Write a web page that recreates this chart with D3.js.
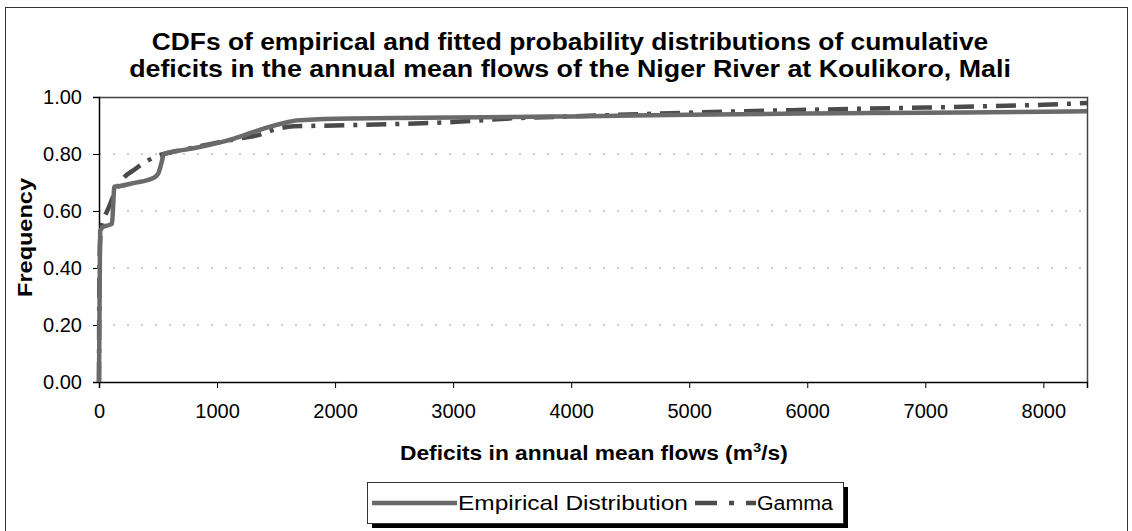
<!DOCTYPE html>
<html>
<head>
<meta charset="utf-8">
<script src="https://cdn.jsdelivr.net/npm/d3@7"></script>
<style>
  body { margin: 0; background: #fff; }
  text { font-family: "Liberation Sans", Arial, sans-serif; }
</style>
</head>
<body>
<div id="chart"></div>
<script>
// values
var titleLines = [
  "CDFs of empirical and fitted probability distributions of cumulative",
  "deficits in the annual mean flows of the Niger River at Koulikoro, Mali"
];
var xTicks = [0, 1000, 2000, 3000, 4000, 5000, 6000, 7000, 8000];
var yTicks = [0, 0.2, 0.4, 0.6, 0.8, 1.0];
var xMax = 8370;

var empiricalX = [0, 5, 10, 40, 80, 110, 120, 130, 180, 290, 460, 500, 530, 550, 660, 800, 1000, 1150, 1280, 1400, 1560, 1680, 2000, 2500, 3000, 3500, 4000, 5000, 6000, 7000, 8000, 8370];
var empiricalY = [0, 0.3, 0.53, 0.545, 0.55, 0.555, 0.62, 0.685, 0.688, 0.698, 0.716, 0.73, 0.77, 0.80, 0.81, 0.82, 0.838, 0.855, 0.873, 0.89, 0.908, 0.918, 0.924, 0.926, 0.928, 0.93, 0.932, 0.938, 0.942, 0.945, 0.948, 0.95];

var gammaX = [0, 2, 5, 10, 20, 40, 80, 130, 206, 300, 376, 489, 600, 800, 1000, 1200, 1365, 1480, 1650, 2000, 2500, 3000, 3500, 4000, 5000, 6000, 7000, 8000, 8370];
var gammaY = [0, 0.3, 0.42, 0.5, 0.54, 0.57, 0.61, 0.66, 0.715, 0.745, 0.768, 0.792, 0.805, 0.822, 0.84, 0.855, 0.868, 0.885, 0.897, 0.9, 0.905, 0.912, 0.925, 0.932, 0.945, 0.955, 0.963, 0.973, 0.979];

var W = 1132, H = 531;
var margin = {top: 97, right: 45, bottom: 149, left: 99};
var width = W - margin.left - margin.right;
var height = H - margin.top - margin.bottom;

var svg = d3.select("#chart").append("svg")
    .attr("width", W)
    .attr("height", H);

// the scanned chart's text is wider than the font: stretch it sideways
function stretch(sel, target, pre) {
  var len = sel.node().getComputedTextLength();
  sel.attr("transform", pre + " scale(" + (target / len) + ",1)");
}

// outer chart frame
svg.append("rect")
  .attr("x", 5.5).attr("y", 7.5)
  .attr("width", 1122).attr("height", 540)
  .attr("fill", "none").attr("stroke", "#333").attr("stroke-width", 1);

var titleWidths = [837, 882];
titleLines.forEach(function(t, i) {
  var tt = svg.append("text")
    .attr("text-anchor", "middle")
    .style("font-size", "24px")
    .style("font-weight", "bold")
    .text(t);
  stretch(tt, titleWidths[i], "translate(570," + (50 + i * 27) + ")");
});

var g = svg.append("g")
    .attr("transform", "translate(" + margin.left + "," + margin.top + ")");

var x = d3.scaleLinear().domain([0, xMax]).range([0, width]);
var y = d3.scaleLinear().domain([0, 1]).range([height, 0]);

// dotted gridlines
g.selectAll("line.grid")
  .data(yTicks.filter(d => d > 0 && d < 1))
  .enter().append("line")
  .attr("x1", 0).attr("x2", width)
  .attr("y1", d => y(d)).attr("y2", d => y(d))
  .attr("stroke", "#999")
  .attr("stroke-width", 1)
  .attr("stroke-dasharray", "2,12");

// plot area border (top / right)
g.append("path")
  .attr("d", "M0,0.5H" + (width + 0.5) + "V" + height)
  .attr("fill", "none").attr("stroke", "#444").attr("stroke-width", 1.5);

var xAxis = g.append("g")
    .attr("transform", "translate(0," + height + ")")
    .call(d3.axisBottom(x).tickValues(xTicks).tickSize(6).tickPadding(16).tickFormat(d3.format("d")));
var yAxis = g.append("g")
    .call(d3.axisLeft(y).tickValues(yTicks).tickSize(6).tickPadding(11).tickFormat(d3.format(".2f")));

[xAxis, yAxis].forEach(function(a) {
  a.select(".domain").attr("stroke", "#000").attr("stroke-width", 1.5);
  a.selectAll(".tick line").attr("stroke", "#000");
  a.selectAll(".tick text")
    .style("font-family", "'Liberation Sans', Arial, sans-serif")
    .style("font-size", "20px")
    .attr("fill", "#000");
});

var line = d3.line()
    .x(d => x(d[0]))
    .y(d => y(d[1]))
    .curve(d3.curveMonotoneX);

var gammaData = gammaX.map((v, i) => [v, gammaY[i]]);
var empiricalData = empiricalX.map((v, i) => [v, empiricalY[i]]);

g.append("path")
  .attr("d", line(gammaData))
  .attr("fill", "none")
  .attr("stroke", "#4a4a4a")
  .attr("stroke-width", 4.5)
  .attr("stroke-dasharray", "20,9,4,9");

g.append("path")
  .attr("d", line(empiricalData))
  .attr("fill", "none")
  .attr("stroke", "#6a6a6a")
  .attr("stroke-width", 4.5)
  .attr("stroke-linejoin", "round");

// axis titles
var yt = svg.append("text")
  .attr("text-anchor", "middle")
  .style("font-size", "20px")
  .style("font-weight", "bold")
  .text("Frequency");
stretch(yt, 119, "translate(32," + (margin.top + height / 2 - 2) + ") rotate(-90)");

var xt = svg.append("text")
  .style("font-size", "20px")
  .style("font-weight", "bold");
xt.append("tspan").text("Deficits in annual mean flows (m");
xt.append("tspan").attr("dy", -8).style("font-size", "13px").text("3");
xt.append("tspan").attr("dy", 8).text("/s)");
stretch(xt, 388, "translate(400,460)");

// legend with shadow
var leg = svg.append("g").attr("transform", "translate(367,482)");
leg.append("rect")
  .attr("x", 5).attr("y", 5).attr("width", 476).attr("height", 41)
  .attr("fill", "#000");
leg.append("rect")
  .attr("x", 0.5).attr("y", 0.5).attr("width", 476).attr("height", 41)
  .attr("fill", "#fff").attr("stroke", "#333");

var legendItems = [
  {name: "Empirical Distribution", x1: 5, x2: 90, tx: 91, tw: 230, color: "#6a6a6a", dash: null},
  {name: "Gamma", x1: 328, x2: 389, tx: 390, tw: 76, color: "#4a4a4a", dash: "22,12,5,12"}
];
legendItems.forEach(function(d) {
  leg.append("line")
    .attr("x1", d.x1).attr("x2", d.x2)
    .attr("y1", 21).attr("y2", 21)
    .attr("stroke", d.color).attr("stroke-width", 4.5)
    .attr("stroke-dasharray", d.dash);
  var lt = leg.append("text")
    .style("font-size", "20px")
    .text(d.name);
  stretch(lt, d.tw, "translate(" + d.tx + ",28)");
});
</script>
</body>
</html>
